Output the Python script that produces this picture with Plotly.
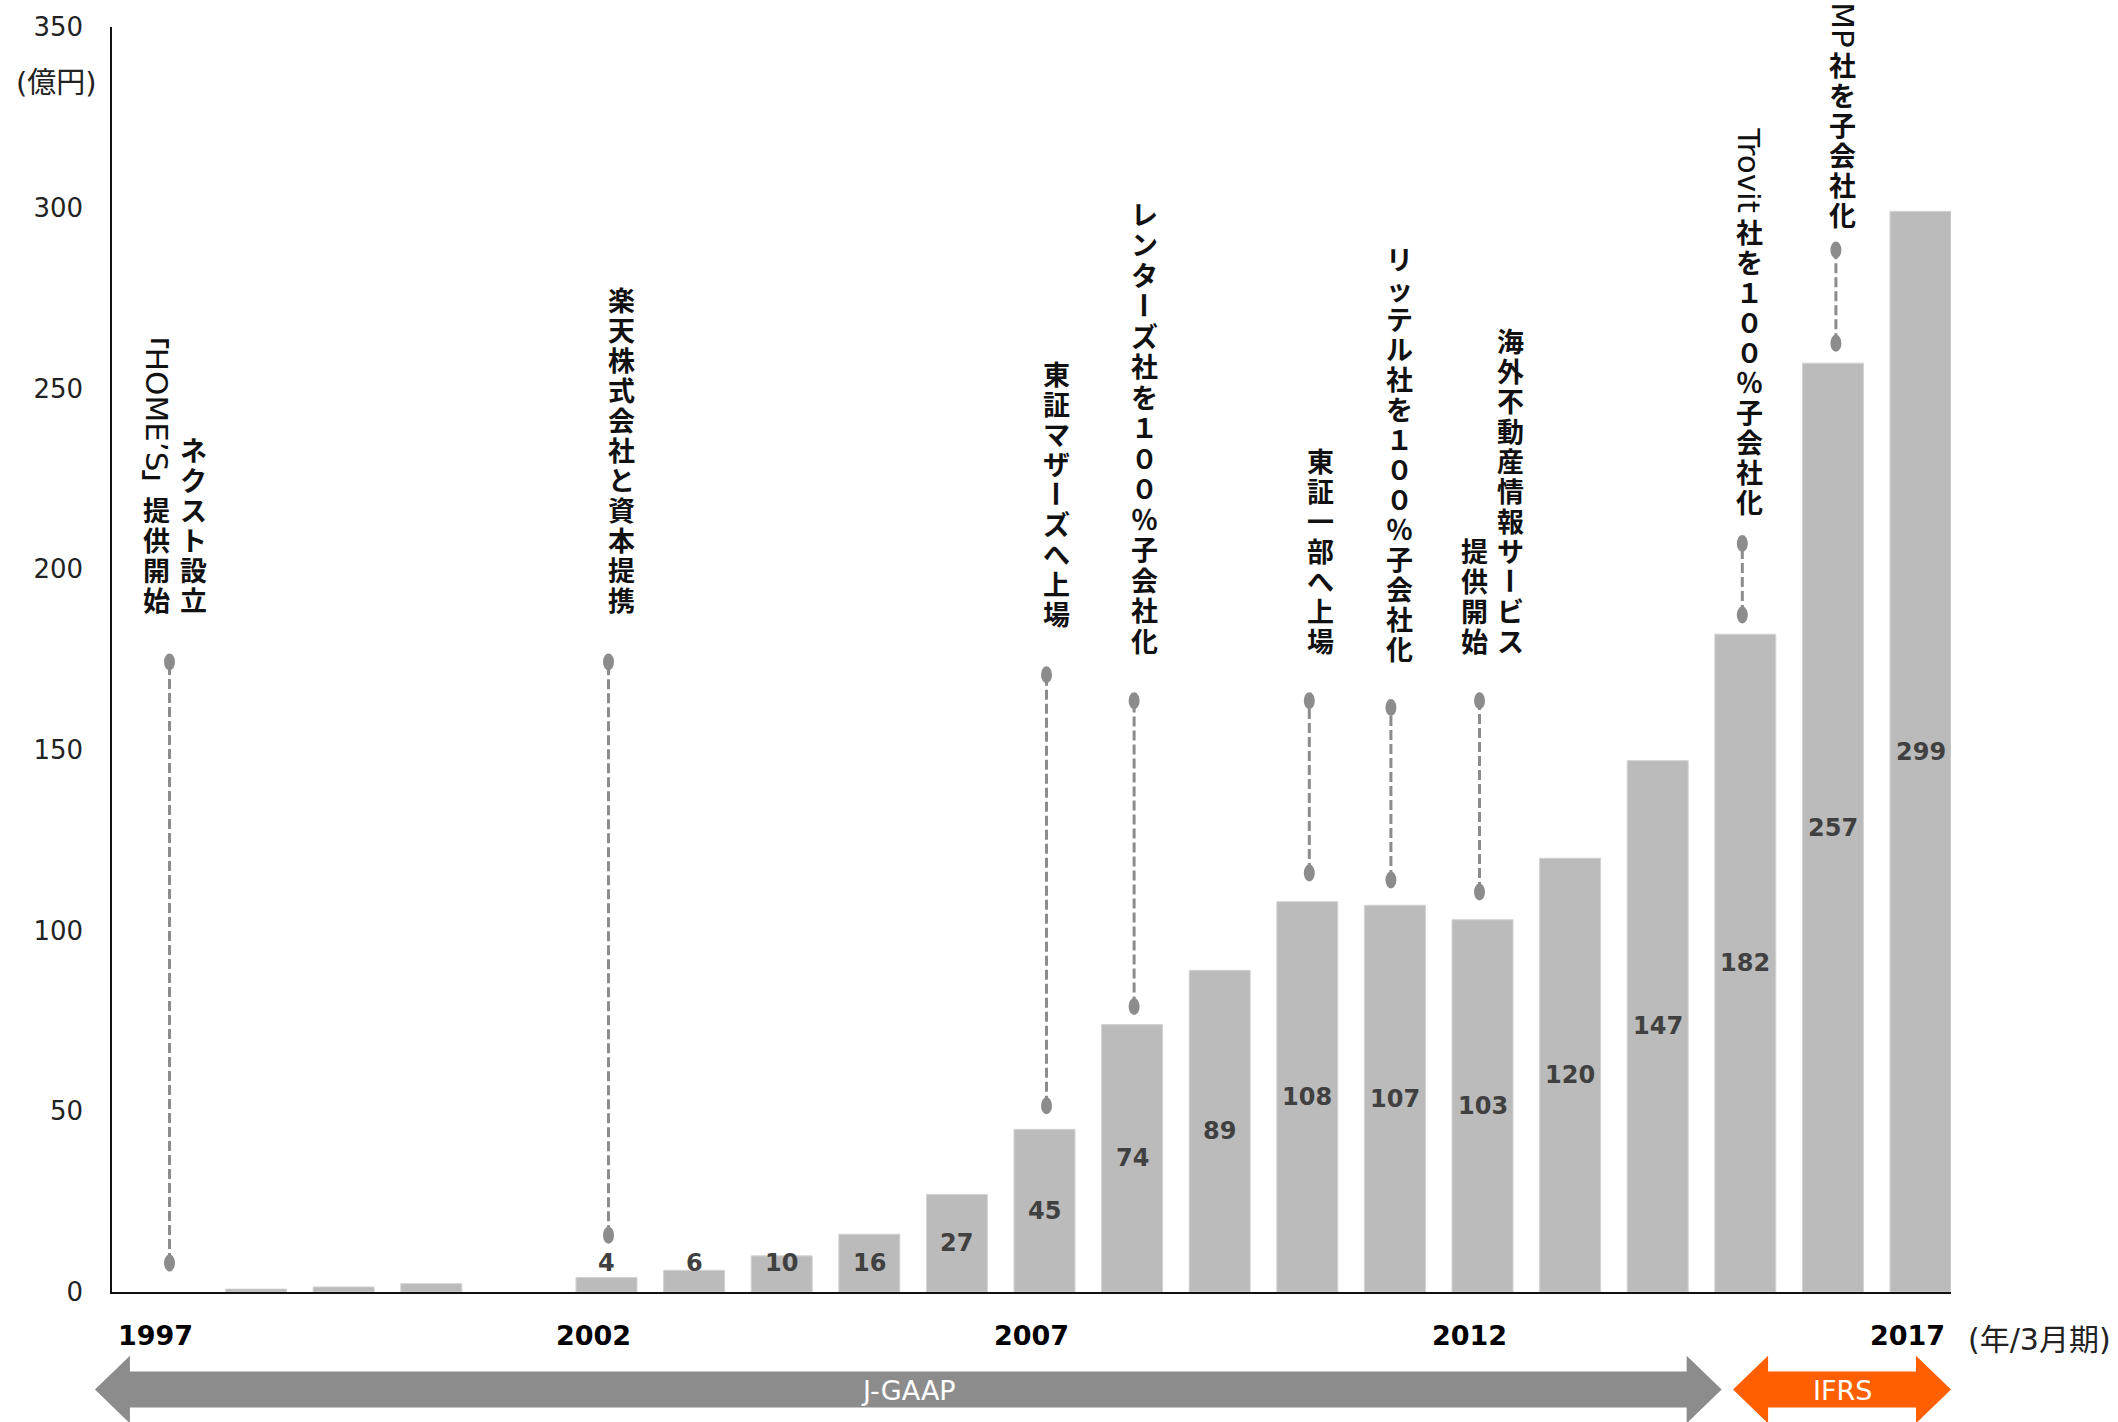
import plotly.graph_objects as go

# ---------------- data ----------------
years = list(range(1997, 2018))
revenue = [None, 0.8, 1.4, 2.3, None, 4, 6, 10, 16, 27, 45, 74, 89, 108, 107, 103, 120, 147, 182, 257, 299]
label_start_year = 2002

tick_years = [1997, 2002, 2007, 2012, 2017]
tick_text = ["1997", "2002", "2007", "2012", "2017"]
y_ticks = [0, 50, 100, 150, 200, 250, 300, 350]

event_years = [1997, 2002, 2007, 2008, 2010, 2011, 2012, 2015, 2016]
event_labels = [
    ["ネクスト設立", "「HOME’S」提供開始"],
    ["楽天株式会社と資本提携"],
    ["東証マザーズへ上場"],
    ["レンターズ社を１００％子会社化"],
    ["東証一部へ上場"],
    ["リッテル社を１００％子会社化"],
    ["海外不動産情報サービス", "提供開始"],
    ["Trovit社を１００％子会社化"],
    ["MP社を子会社化"],
]
event_low = [8.0, 15.7, 51.5, 79.0, 115.9, 114.0, 110.7, 187.3, 262.5]
event_high = [174.3, 174.3, 170.8, 163.6, 163.6, 161.7, 163.6, 207.1, 288.3]

periods = ["J-GAAP", "IFRS"]
period_start = [1996.16, 2014.86]
period_end = [2014.73, 2017.348]

# ---------------- layout constants ----------------
W_FIG, H_FIG = 2118, 1422
M_L, M_R, M_T, M_B = 112, 167, 21, 130
PW = W_FIG - M_L - M_R
PH = H_FIG - M_T - M_B
XMIN, XMAX = 1996.355, 2017.348

# per-event layout (pixel offsets)
line_dx = [1, 2, 2, 2, 2, -4, -3, -3, 3]
col_dx = [[25, -12], [15], [12], [12], [13], [5], [28, -8], [4], [10]]
text_gap = [48, 48, 46, 45, 45, 44, 45, 27, 21]
pitch = [30, 30, 30, 30.5, 30, 30, 30, 30, 30]

CJK_FONT = dict(family="Noto Sans CJK JP", size=27, color="#111111", weight="bold")
LAT_FONT = dict(family="DejaVu Sans", size=31, color="#111111")
LAT_W = {"H": .752, "O": .787, "M": .863, "E": .632, "’": .318, "'": .275, "S": .635,
         "T": .611, "r": .411, "o": .612, "v": .592, "i": .278, "t": .392, "P": .603}
GRAY = "#8C8C8C"


def x_paper(yr):
    return (yr - XMIN) / (XMAX - XMIN)


def px_to_paper(px, py):
    return (px - M_L) / PW, (H_FIG - M_B - py) / PH


def tokens(s):
    out, buf = [], ""
    for ch in s:
        if ord(ch) < 128 or ch == "’":
            buf += ch
        else:
            if buf:
                out.append((buf, "latin"))
                buf = ""
            out.append((ch, "rot" if ch in "ー「」" else "up"))
    if buf:
        out.append((buf, "latin"))
    return out


def advance(tok, kind, p):
    if kind == "latin":
        return sum(LAT_W.get(c, 0.6) for c in tok) * LAT_FONT["size"] + 2
    if tok in "「」":
        return 22
    return p


fig = go.Figure()
fig.add_trace(go.Bar(
    x=years, y=revenue, width=0.696,
    marker=dict(color="#BBBBBB", line=dict(color="#D2D2D2", width=1)),
    hoverinfo="skip", showlegend=False,
))

annotations = []
shapes = []

# value labels
for yr, v in zip(years, revenue):
    if v is None or yr < label_start_year:
        continue
    annotations.append(dict(
        x=yr, y=max(v / 2, 8), xref="x", yref="y", text=str(v), showarrow=False,
        font=dict(family="DejaVu Sans", size=24, color="#404040", weight="bold"),
        xanchor="center", yanchor="middle",
    ))

# event markers and vertical labels
for i, yr in enumerate(event_years):
    lo, hi, dx = event_low[i], event_high[i], line_dx[i]
    shapes.append(dict(
        type="line", xref="x", yref="y", xsizemode="pixel", xanchor=yr,
        x0=dx, x1=dx, y0=lo, y1=hi,
        line=dict(color=GRAY, width=3, dash="10px,4px"),
    ))
    for v in (lo, hi):
        shapes.append(dict(
            type="circle", xref="x", yref="y", xsizemode="pixel", ysizemode="pixel",
            xanchor=yr, yanchor=v, x0=dx - 5.5, x1=dx + 5.5, y0=-8.5, y1=8.5,
            fillcolor=GRAY, line=dict(width=0),
        ))
    for j, label in enumerate(event_labels[i]):
        toks = tokens(label)
        advs = [advance(t, k, pitch[i]) for t, k in toks]
        from_bottom = 0.0
        for (t, k), a in reversed(list(zip(toks, advs))):
            center = from_bottom + a / 2
            from_bottom += a
            ann = dict(
                x=yr, y=hi, xref="x", yref="y", text=t, showarrow=False,
                xshift=col_dx[i][j], yshift=text_gap[i] + center,
                textangle=0 if k == "up" else 90,
                font=LAT_FONT if k == "latin" else CJK_FONT,
                xanchor="center", yanchor="middle",
            )
            if k == "up":
                ann["height"] = 29
            annotations.append(ann)

# accounting period arrows
YC, SH, HH, HL = 1390, 18, 34, 35
period_colors = [GRAY, "#FF5F00"]
for name, s, e, col in zip(periods, period_start, period_end, period_colors):
    xl = M_L + x_paper(s) * PW
    xr = M_L + x_paper(e) * PW
    pts = [(xl, YC), (xl + HL, YC - HH), (xl + HL, YC - SH), (xr - HL, YC - SH),
           (xr - HL, YC - HH), (xr, YC), (xr - HL, YC + HH), (xr - HL, YC + SH),
           (xl + HL, YC + SH), (xl + HL, YC + HH)]
    pp = [px_to_paper(px, py) for px, py in pts]
    path = "M " + " L ".join(f"{a:.5f},{b:.5f}" for a, b in pp) + " Z"
    shapes.append(dict(type="path", xref="paper", yref="paper", path=path,
                       fillcolor=col, line=dict(width=0), layer="above"))
    cx, cy = px_to_paper((xl + xr) / 2, YC + 1)
    annotations.append(dict(
        x=cx, y=cy, xref="paper", yref="paper", text=name, showarrow=False,
        font=dict(family="DejaVu Sans", size=27, color="white"),
        xanchor="center", yanchor="middle",
    ))

# unit labels
ux, uy = px_to_paper(56, 77)
annotations.append(dict(
    x=ux, y=uy, xref="paper", yref="paper", text="(億円)", showarrow=False,
    font=dict(family="DejaVu Sans, Noto Sans CJK JP", size=29, color="#222222"),
    xanchor="center", yanchor="middle",
))
px_, py_ = px_to_paper(1966, 1340)
annotations.append(dict(
    x=px_, y=py_, xref="paper", yref="paper", text="(年/3月期)", showarrow=False,
    font=dict(family="DejaVu Sans, Noto Sans CJK JP", size=30, color="#222222"),
    xanchor="left", yanchor="middle",
))

fig.update_layout(
    width=W_FIG, height=H_FIG,
    margin=dict(l=M_L, r=M_R, t=M_T, b=M_B, pad=0),
    paper_bgcolor="white", plot_bgcolor="white",
    showlegend=False,
    annotations=annotations, shapes=shapes,
    xaxis=dict(
        range=[XMIN, XMAX], tickvals=tick_years, ticktext=tick_text,
        showline=True, linecolor="#111111", linewidth=2, ticks="",
        showgrid=False, zeroline=False,
        tickfont=dict(family="DejaVu Sans", size=27, color="#000000", weight="bold"),
        ticklabelstandoff=19, ticklabelshift=-13,
    ),
    yaxis=dict(
        range=[0, 350], tickvals=y_ticks,
        showline=True, linecolor="#111111", linewidth=1.5, ticks="",
        showgrid=False, zeroline=False,
        tickfont=dict(family="DejaVu Sans", size=26, color="#222222"),
        ticklabelstandoff=22,
    ),
)

fig.write_html("out.html")
